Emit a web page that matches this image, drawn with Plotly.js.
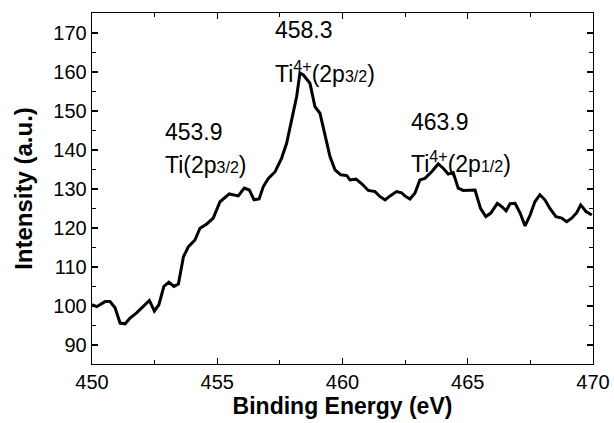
<!DOCTYPE html>
<html>
<head>
<meta charset="utf-8">
<script src="https://cdn.plot.ly/plotly-3.0.1.min.js"></script>
<style>html,body{margin:0;padding:0;background:#fff;}#chart{width:614px;height:423px;}</style>
</head>
<body>
<div id="chart"></div>
<script>
const bindingEnergy = [450.00,450.19,450.52,450.72,450.92,451.12,451.32,451.52,451.78,452.05,452.29,452.49,452.67,452.87,453.07,453.27,453.45,453.65,453.85,454.11,454.31,454.58,454.84,455.11,455.48,455.84,456.08,456.28,456.47,456.67,456.84,457.04,457.31,457.57,457.77,457.97,458.17,458.30,458.44,458.70,458.90,459.10,459.30,459.50,459.70,459.93,460.17,460.30,460.54,460.77,461.03,461.30,461.50,461.70,461.90,462.16,462.36,462.49,462.69,462.89,463.09,463.29,463.56,463.82,464.02,464.22,464.42,464.62,464.82,465.09,465.29,465.51,465.72,465.92,466.18,466.35,466.53,466.69,466.89,467.09,467.29,467.49,467.68,467.88,468.08,468.28,468.52,468.75,468.95,469.15,469.35,469.51,469.72,469.95];
const intensity = [100.3,99.8,101.1,101.1,99.5,95.6,95.4,96.9,98.2,99.8,101.4,98.7,100.3,105.0,106.1,105.0,105.6,112.6,115.2,116.9,119.9,121.0,122.5,126.7,128.7,128.2,130.2,129.7,127.2,127.4,130.6,132.7,134.4,137.9,141.7,147.7,153.7,159.7,159.2,157.1,151.1,149.4,143.4,138.3,134.9,133.6,133.4,132.3,132.5,131.3,129.6,129.3,128.0,127.2,128.2,129.3,129.0,128.2,127.4,128.9,132.3,132.7,134.4,136.4,135.3,133.8,134.2,130.2,129.6,129.7,129.7,125.0,122.9,123.8,126.3,125.5,124.4,126.2,126.3,123.8,120.5,123.3,126.7,128.5,127.2,125.0,122.9,122.5,121.6,122.5,123.9,125.9,124.2,123.3];
const xTicks = [450,455,460,465,470];
const yTicks = [90,100,110,120,130,140,150,160,170];
const peakLabels = ["453.9","458.3","463.9"];
const stateLabels = ["Ti(2p<span style=\"font-size:16px\">3/2</span>)","Ti<sup>4+</sup>(2p<span style=\"font-size:16px\">3/2</span>)","Ti<sup>4+</sup>(2p<span style=\"font-size:16px\">1/2</span>)"];
const labelX = [452.83,457.23,462.65];
const labelY1 = [144.6,170.8,147.2];
const labelY2 = [136.2,160.0,136.9];

const font = "Liberation Sans, Arial, sans-serif";
const annotations = [];
for (let i = 0; i < peakLabels.length; i++) {
  annotations.push({x: labelX[i], y: labelY1[i], xref:'x', yref:'y', text: peakLabels[i], showarrow:false, xanchor:'left', yanchor:'middle', font:{family:font, size:23, color:'#000'}});
  annotations.push({x: labelX[i], y: labelY2[i], xref:'x', yref:'y', text: stateLabels[i], showarrow:false, xanchor:'left', yanchor:'middle', font:{family:font, size:23, color:'#000'}});
}

const axisCommon = {
  showgrid:false, zeroline:false, showline:true, linecolor:'#000', linewidth:1.3,
  mirror:'allticks', ticks:'inside', ticklen:6, tickwidth:1.3, tickcolor:'#000',
  tickfont:{family:font, size:20, color:'#000'},
  minor:{ticks:'inside', ticklen:4, tickwidth:1.1, tickcolor:'#000', showgrid:false}
};

const layout = {
  width:614, height:423,
  margin:{l:92, r:21, t:13, b:59},
  paper_bgcolor:'#fff', plot_bgcolor:'#fff',
  showlegend:false,
  xaxis: Object.assign({}, axisCommon, {
    range:[450,470], tickvals:xTicks, ticktext:xTicks.map(String),
    automargin:'bottom',
    minor:Object.assign({}, axisCommon.minor, {dtick:2.5, tick0:450}),
    title:{text:'Binding Energy (eV)', font:{family:font, size:23, color:'#000', weight:'bold'}, standoff:2}
  }),
  yaxis: Object.assign({}, axisCommon, {
    range:[85.1,175.1], tickvals:yTicks, ticktext:yTicks.map(String),
    minor:Object.assign({}, axisCommon.minor, {dtick:5, tick0:85}),
    title:{text:'Intensity (a.u.)', font:{family:font, size:24, color:'#000', weight:'bold'}, standoff:14}
  }),
  annotations: annotations
};

Plotly.newPlot('chart', [{
  x: bindingEnergy, y: intensity, type:'scatter', mode:'lines',
  line:{color:'#000', width:3}
}], layout, {staticPlot:true, displayModeBar:false});
</script>
</body>
</html>
